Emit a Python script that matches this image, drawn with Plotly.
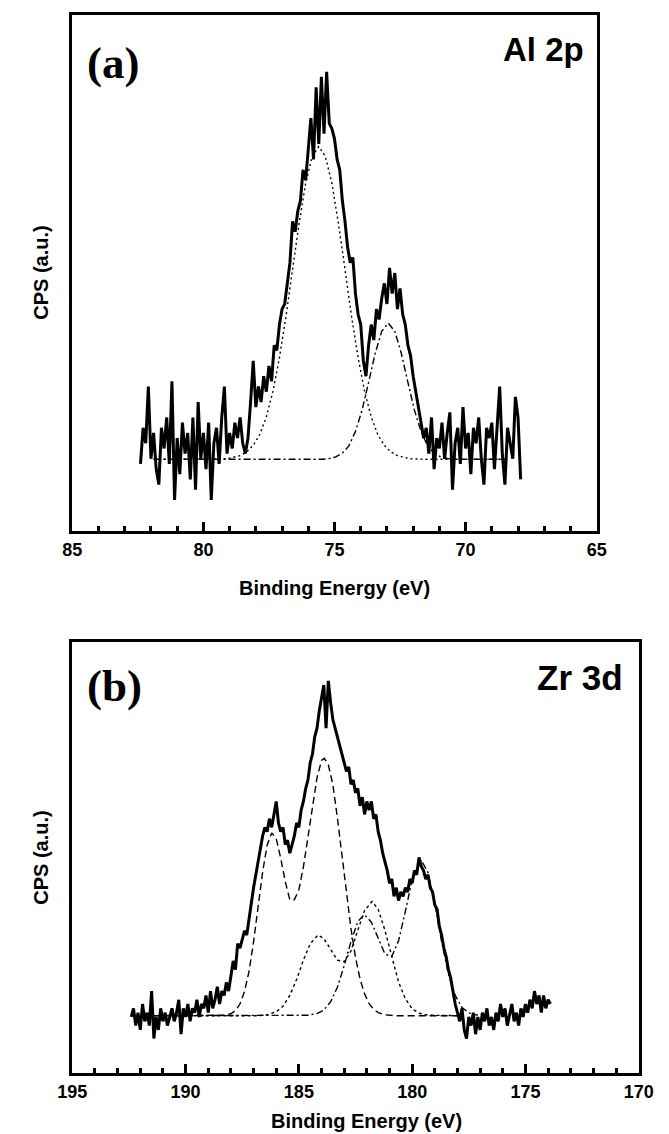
import plotly.graph_objects as go

W, H = 669, 1134

# ---------------- Panel (a): Al 2p ----------------
a_x = [
    82.4, 82.3, 82.2, 82.1, 82.0, 81.9, 81.8, 81.7, 81.6, 81.5,
    81.4, 81.3, 81.2, 81.1, 81.0, 80.9, 80.8, 80.7, 80.6, 80.5,
    80.4, 80.3, 80.2, 80.1, 80.0, 79.9, 79.8, 79.7, 79.6, 79.5,
    79.4, 79.3, 79.2, 79.1, 79.0, 78.9, 78.8, 78.7, 78.6, 78.5,
    78.4, 78.3, 78.2, 78.1, 78.0, 77.9, 77.8, 77.7, 77.6, 77.5,
    77.4, 77.3, 77.2, 77.1, 77.0, 76.9, 76.8, 76.7, 76.6, 76.5,
    76.4, 76.3, 76.2, 76.1, 76.0, 75.9, 75.8, 75.7, 75.6, 75.5,
    75.4, 75.3, 75.2, 75.1, 75.0, 74.9, 74.8, 74.7, 74.6, 74.5,
    74.4, 74.3, 74.2, 74.1, 74.0, 73.9, 73.8, 73.7, 73.6, 73.5,
    73.4, 73.3, 73.2, 73.1, 73.0, 72.9, 72.8, 72.7, 72.6, 72.5,
    72.4, 72.3, 72.2, 72.1, 72.0, 71.9, 71.8, 71.7, 71.6, 71.5,
    71.4, 71.3, 71.2, 71.1, 71.0, 70.9, 70.8, 70.7, 70.6, 70.5,
    70.4, 70.3, 70.2, 70.1, 70.0, 69.9, 69.8, 69.7, 69.6, 69.5,
    69.4, 69.3, 69.2, 69.1, 69.0, 68.9, 68.8, 68.7, 68.6, 68.5,
    68.4, 68.3, 68.2, 68.1, 68.0, 67.9,
]
a_cps = [
    13, 20, 17, 28, 14, 19, 12, 9, 20, 16,
    22, 13, 29, 6, 18, 11, 21, 15, 19, 10,
    22, 8, 25, 14, 19, 12, 21, 6, 17, 20,
    13, 22, 28, 15, 19, 16, 21, 18, 22, 17,
    15, 18, 25, 33, 24, 28, 25, 30, 27, 32,
    29, 36, 35, 40, 43, 44, 48, 52, 60, 58,
    62, 64, 70, 68, 74, 80, 72, 86, 75, 88,
    77, 89, 79, 78, 76, 72, 70, 64, 60, 55,
    52, 53, 46, 42, 40, 33, 30, 36, 40, 37,
    43, 41, 45, 48, 44, 51, 46, 50, 43, 47,
    42, 40, 36, 34, 30, 27, 24, 21, 18, 20,
    15, 22, 12, 18, 16, 21, 14, 19, 23, 8,
    17, 20, 13, 24, 16, 19, 11, 20, 17, 22,
    14, 9, 20, 18, 21, 12, 19, 28, 15, 9,
    20, 17, 14, 26, 22, 10,
]

# fitted component 1 (dotted)
a_fit1_x = [81.9, 79.6, 79.1, 78.6, 78.35, 78.1, 77.85, 77.6, 77.35, 77.1,
            76.85, 76.6, 76.35, 76.1, 75.85, 75.6, 75.35, 75.1, 74.85, 74.6,
            74.35, 74.1, 73.85, 73.6, 73.35, 73.1, 72.85, 72.6, 72.1, 71.6, 68.5]
a_fit1_y = [13.9, 13.9, 14.0, 14.6, 15.3, 16.6, 18.7, 22.1, 27.0, 33.6,
            41.6, 50.7, 59.6, 67.4, 72.6, 74.5, 72.6, 67.4, 59.6, 50.7,
            41.6, 33.6, 27.0, 22.1, 18.7, 16.6, 15.3, 14.6, 14.0, 13.9, 13.9]

# fitted component 2 (dash-dot)
a_fit2_x = [81.9, 75.45, 75.2, 74.95, 74.7, 74.45, 74.2, 73.95, 73.7, 73.45,
            73.2, 72.95, 72.7, 72.45, 72.2, 71.95, 71.7, 71.45, 71.2, 70.95,
            70.7, 70.45, 68.5]
a_fit2_y = [13.9, 13.9, 14.05, 14.35, 15.1, 16.5, 19.3, 23.4, 28.8, 34.4,
            38.7, 40.3, 38.7, 34.4, 28.8, 23.4, 19.3, 16.5, 15.1, 14.35,
            14.05, 13.9, 13.9]

# ---------------- Panel (b): Zr 3d ----------------
b_x = [
    192.4, 192.3, 192.2, 192.1, 192.0, 191.9, 191.8, 191.7, 191.6, 191.5,
    191.4, 191.3, 191.2, 191.1, 191.0, 190.9, 190.8, 190.7, 190.6, 190.5,
    190.4, 190.3, 190.2, 190.1, 190.0, 189.9, 189.8, 189.7, 189.6, 189.5,
    189.4, 189.3, 189.2, 189.1, 189.0, 188.9, 188.8, 188.7, 188.6, 188.5,
    188.4, 188.3, 188.2, 188.1, 188.0, 187.9, 187.8, 187.7, 187.6, 187.5,
    187.4, 187.3, 187.2, 187.1, 187.0, 186.9, 186.8, 186.7, 186.6, 186.5,
    186.4, 186.3, 186.2, 186.1, 186.0, 185.9, 185.8, 185.7, 185.6, 185.5,
    185.4, 185.3, 185.2, 185.1, 185.0, 184.9, 184.8, 184.7, 184.6, 184.5,
    184.4, 184.3, 184.2, 184.1, 184.0, 183.9, 183.8, 183.7, 183.6, 183.5,
    183.4, 183.3, 183.2, 183.1, 183.0, 182.9, 182.8, 182.7, 182.6, 182.5,
    182.4, 182.3, 182.2, 182.1, 182.0, 181.9, 181.8, 181.7, 181.6, 181.5,
    181.4, 181.3, 181.2, 181.1, 181.0, 180.9, 180.8, 180.7, 180.6, 180.5,
    180.4, 180.3, 180.2, 180.1, 180.0, 179.9, 179.8, 179.7, 179.6, 179.5,
    179.4, 179.3, 179.2, 179.1, 179.0, 178.9, 178.8, 178.7, 178.6, 178.5,
    178.4, 178.3, 178.2, 178.1, 178.0, 177.9, 177.8, 177.7, 177.6, 177.5,
    177.4, 177.3, 177.2, 177.1, 177.0, 176.9, 176.8, 176.7, 176.6, 176.5,
    176.4, 176.3, 176.2, 176.1, 176.0, 175.9, 175.8, 175.7, 175.6, 175.5,
    175.4, 175.3, 175.2, 175.1, 175.0, 174.9, 174.8, 174.7, 174.6, 174.5,
    174.4, 174.3, 174.2, 174.1, 174.0, 173.9,
]
b_cps = [
    13, 15, 11, 14, 10, 16, 12, 14, 11, 19,
    8, 13, 10, 15, 12, 14, 11, 13, 15, 12,
    14, 17, 9, 15, 13, 16, 12, 15, 14, 17,
    13, 16, 15, 18, 14, 19, 15, 17, 20, 16,
    19, 18, 21, 19, 22, 26, 24, 30, 29, 31,
    33, 32, 36, 40, 43, 46, 49, 52, 55, 57,
    56, 59, 57, 60, 63, 58, 56, 57, 53, 54,
    51, 53, 55, 58, 57, 61, 63, 66, 68, 72,
    74, 78, 80, 84, 87, 90, 80, 91, 86, 82,
    80, 78, 76, 74, 72, 70, 71, 67, 68, 65,
    66, 62, 64, 60, 63, 61, 63, 59, 60, 56,
    54, 51, 49, 47, 44, 45, 41, 43, 40, 42,
    41, 43, 42, 45, 44, 47, 46, 50, 48, 47,
    45, 46, 43, 42, 39, 38, 34, 32, 29, 27,
    24, 22, 19, 16, 14, 12, 15, 10, 8, 13,
    11, 14, 9, 13, 10, 14, 12, 15, 11, 13,
    10, 14, 12, 16, 13, 15, 11, 14, 16, 12,
    14, 11, 15, 13, 16, 14, 17, 15, 19, 16,
    18, 14, 18, 15, 17, 16,
]

# dashed doublet
b_fit1_x = [191.5, 188.3, 188.0, 187.8, 187.6, 187.4, 187.2, 187.0, 186.8, 186.6,
            186.4, 186.2, 186.0, 185.8, 185.6, 185.4, 185.2, 185.0, 184.8, 184.6,
            184.4, 184.2, 184.0, 183.88, 183.7, 183.5, 183.3, 183.1, 182.9, 182.7,
            182.5, 182.3, 182.1, 181.9, 181.7, 181.5, 181.2, 180.8, 177.8]
b_fit1_y = [13.3, 13.4, 13.75, 14.5, 16.0, 18.9, 23.6, 30.4, 38.5, 46.6,
            52.9, 55.7, 54.4, 49.8, 44.4, 40.2, 40.2, 42.5, 47.8, 55.0,
            62.5, 68.5, 72.5, 73.0, 71.5, 66.9, 59.2, 50.4, 41.5, 33.5,
            26.8, 21.8, 18.4, 16.1, 14.8, 14.0, 13.5, 13.3, 13.3]

# dotted doublet
b_fit2_x = [191.5, 186.8, 186.4, 186.0, 185.7, 185.4, 185.1, 184.8, 184.5, 184.16,
            183.9, 183.6, 183.3, 183.0, 182.7, 182.4, 182.1, 181.77, 181.5, 181.2,
            180.9, 180.6, 180.3, 180.0, 179.7, 179.3, 177.8]
b_fit2_y = [13.3, 13.3, 13.5, 14.2, 15.5, 18.0, 21.7, 26.2, 30.0, 32.0,
            31.2, 28.6, 26.2, 25.8, 28.3, 33.1, 37.7, 39.8, 38.0, 33.1,
            26.8, 21.1, 17.2, 14.9, 13.9, 13.4, 13.3]

# dash-dot doublet
b_fit3_x = [191.5, 184.6, 184.2, 183.9, 183.6, 183.3, 183.0, 182.7, 182.4, 182.12,
            181.8, 181.5, 181.2, 180.9, 180.6, 180.3, 180.0, 179.6, 179.3, 179.0,
            178.7, 178.4, 178.1, 177.8, 177.5, 177.1]
b_fit3_y = [13.3, 13.4, 13.8, 14.6, 16.5, 19.9, 24.9, 30.5, 35.1, 36.8,
            35.0, 31.2, 27.6, 27.0, 30.7, 37.5, 44.8, 49.4, 46.5, 39.3,
            30.5, 23.0, 18.0, 15.2, 13.95, 13.4]

a_ticks = [85, 80, 75, 70, 65]
b_ticks = [195, 190, 185, 180, 175, 170]

# ---------------- figure ----------------
def px_x(p):
    return p / W

def px_y(p):
    return 1 - p / H

fig = go.Figure()

FIT_W = 1.4
RAW_W = 3.0
fig.add_trace(go.Scatter(x=a_fit1_x, y=a_fit1_y, mode="lines", xaxis="x", yaxis="y",
                         line=dict(color="black", width=FIT_W, dash="2px,3px")))
fig.add_trace(go.Scatter(x=a_fit2_x, y=a_fit2_y, mode="lines", xaxis="x", yaxis="y",
                         line=dict(color="black", width=FIT_W, dash="7px,3px,2px,3px")))
fig.add_trace(go.Scatter(x=a_x, y=a_cps, mode="lines", xaxis="x", yaxis="y",
                         line=dict(color="black", width=RAW_W)))

fig.add_trace(go.Scatter(x=b_fit1_x, y=b_fit1_y, mode="lines", xaxis="x2", yaxis="y2",
                         line=dict(color="black", width=FIT_W, dash="7px,4px")))
fig.add_trace(go.Scatter(x=b_fit2_x, y=b_fit2_y, mode="lines", xaxis="x2", yaxis="y2",
                         line=dict(color="black", width=FIT_W, dash="3px,3px")))
fig.add_trace(go.Scatter(x=b_fit3_x, y=b_fit3_y, mode="lines", xaxis="x2", yaxis="y2",
                         line=dict(color="black", width=FIT_W, dash="7px,3px,2px,3px")))
fig.add_trace(go.Scatter(x=b_x, y=b_cps, mode="lines", xaxis="x2", yaxis="y2",
                         line=dict(color="black", width=RAW_W)))

tickfont = dict(family="Liberation Sans", size=18, color="black", weight="bold")

def xaxis_cfg(dom, rng, ticks):
    return dict(
        domain=dom, range=rng, tickvals=ticks,
        ticktext=["<b>%d</b>" % t for t in ticks],
        ticks="inside", ticklen=9, tickwidth=3, tickcolor="black",
        minor=dict(dtick=1, ticks="inside", ticklen=5, tickwidth=3, tickcolor="black"),
        showline=True, mirror=True, linewidth=3, linecolor="black",
        showgrid=False, zeroline=False, tickfont=tickfont, ticklabelstandoff=0,
    )

def yaxis_cfg(dom):
    return dict(
        domain=dom, range=[0, 100], showticklabels=False, ticks="",
        showline=True, mirror=True, linewidth=3, linecolor="black",
        showgrid=False, zeroline=False,
    )

fig.update_layout(
    width=W, height=H, margin=dict(l=0, r=0, t=0, b=0),
    paper_bgcolor="white", plot_bgcolor="white", showlegend=False,
    xaxis=xaxis_cfg([px_x(60), px_x(609)], [85, 65], a_ticks) | dict(anchor="y"),
    yaxis=yaxis_cfg([px_y(531), px_y(15)]) | dict(anchor="x"),
    xaxis2=xaxis_cfg([px_x(60), px_x(653)], [195, 170], b_ticks) | dict(anchor="y2"),
    yaxis2=yaxis_cfg([px_y(1073), px_y(642)]) | dict(anchor="x2"),
)

sans_b = lambda s: dict(family="Liberation Sans", size=s, color="black", weight="bold")
serif_b = dict(family="Liberation Serif", size=45, color="black", weight="bold")

annots = [
    dict(text="<b>(a)</b>", x=px_x(73), y=px_y(63), xanchor="left", yanchor="middle", font=serif_b),
    dict(text="<b>(b)</b>", x=px_x(73), y=px_y(686), xanchor="left", yanchor="middle", font=serif_b),
    dict(text="<b>Al 2p</b>", x=px_x(598), y=px_y(50), xanchor="right", yanchor="middle", font=sans_b(33)),
    dict(text="<b>Zr 3d</b>", x=px_x(639), y=px_y(677), xanchor="right", yanchor="middle", font=sans_b(35)),
    dict(text="<b>Binding Energy (eV)</b>", x=px_x(335), y=px_y(588), xanchor="center", yanchor="middle", font=sans_b(20)),
    dict(text="<b>Binding Energy (eV)</b>", x=px_x(368), y=px_y(1121), xanchor="center", yanchor="middle", font=sans_b(20)),
    dict(text="<b>CPS (a.u.)</b>", x=px_x(27), y=px_y(273), xanchor="center", yanchor="middle", textangle=-90, font=sans_b(20)),
    dict(text="<b>CPS (a.u.)</b>", x=px_x(27), y=px_y(858), xanchor="center", yanchor="middle", textangle=-90, font=sans_b(20)),
]
for a in annots:
    a.update(xref="paper", yref="paper", showarrow=False)
fig.update_layout(annotations=annots)

fig.write_html("out.html")
